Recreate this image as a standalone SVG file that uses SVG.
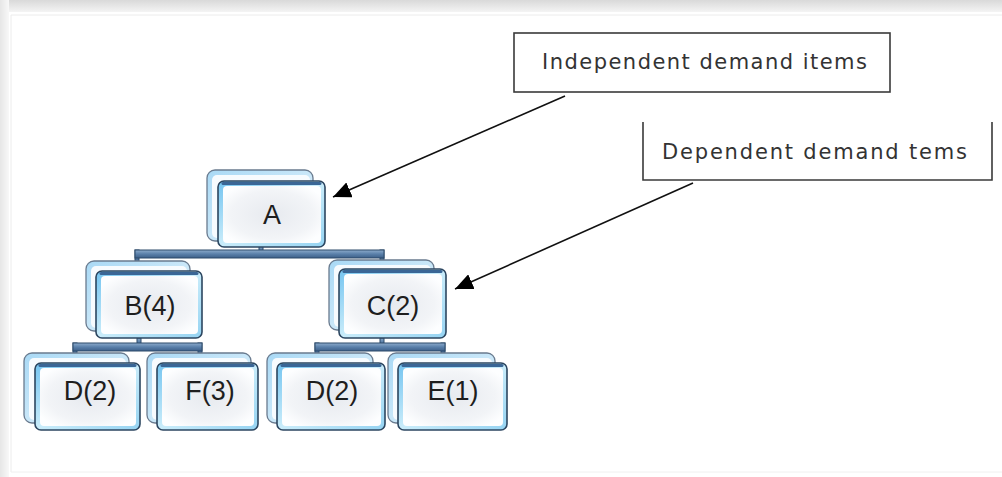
<svg xmlns="http://www.w3.org/2000/svg" width="1002" height="477" viewBox="0 0 1002 477">
  <defs>
    <linearGradient id="gTop" x1="0" y1="0" x2="0" y2="1">
      <stop offset="0" stop-color="#d9d9d9"/>
      <stop offset="1" stop-color="#f4f4f4"/>
    </linearGradient>
    <linearGradient id="gLeft" x1="0" y1="0" x2="1" y2="0">
      <stop offset="0" stop-color="#e6e6e6"/>
      <stop offset="1" stop-color="#f8f8f8"/>
    </linearGradient>
    <linearGradient id="gEdge" x1="0" y1="0" x2="1" y2="1">
      <stop offset="0" stop-color="#74c4f0"/>
      <stop offset="0.5" stop-color="#c9ecfa"/>
      <stop offset="1" stop-color="#95d3f2"/>
    </linearGradient>
    <radialGradient id="gInner" cx="0.5" cy="0.5" r="0.6">
      <stop offset="0" stop-color="#e7eaef"/>
      <stop offset="0.7" stop-color="#f2f4f7"/>
      <stop offset="1" stop-color="#fdfeff"/>
    </radialGradient>
    <linearGradient id="gBack" x1="0" y1="0" x2="1" y2="1">
      <stop offset="0" stop-color="#a9d9f5"/>
      <stop offset="1" stop-color="#e9f5fc"/>
    </linearGradient>
    <linearGradient id="gBar" x1="0" y1="0" x2="0" y2="1">
      <stop offset="0" stop-color="#8eaccc"/>
      <stop offset="0.5" stop-color="#5a80aa"/>
      <stop offset="1" stop-color="#3d5f88"/>
    </linearGradient>
    <marker id="arr" markerUnits="userSpaceOnUse" markerWidth="20" markerHeight="16" refX="18" refY="8" orient="auto">
      <path d="M0,0 L18,8 L0,16 Z" fill="#000"/>
    </marker>
    <style>
      .back { fill: url(#gBack); stroke: #6a7b8f; stroke-width: 1.3; }
      .backin { fill: #f7fbfe; stroke: none; }
      .front { fill: url(#gEdge); stroke: #2c4660; stroke-width: 1.6; }
      .frontin { fill: url(#gInner); stroke: none; }
      .topline { stroke: #3a6696; stroke-width: 3; stroke-linecap: round; fill: none; }
      .lbl { font-family: "Liberation Sans", Arial, sans-serif; font-size: 27px; fill: #1e1e1e; text-anchor: middle; }
      .bar { fill: url(#gBar); stroke: #2d4a6a; stroke-width: 1; }
      .callout { fill: #ffffff; stroke: #3a3a3a; stroke-width: 1.6; }
      .ctext { font-family: "DejaVu Sans", Verdana, sans-serif; font-size: 21px; fill: #333333; }
      .arrow { stroke: #111; stroke-width: 1.6; fill: none; marker-end: url(#arr); }
    </style>
  </defs>

  <!-- page frame -->
  <rect x="0" y="0" width="1002" height="477" fill="#ffffff"/>
  <rect x="0" y="0" width="1002" height="12" fill="url(#gTop)"/>
  <rect x="0" y="0" width="9" height="477" fill="url(#gLeft)"/>
  <line x1="11" y1="15" x2="1002" y2="15" stroke="#ececec" stroke-width="1"/>
  <line x1="11" y1="15" x2="11" y2="472" stroke="#ececec" stroke-width="1"/>
  <line x1="11" y1="472" x2="1002" y2="472" stroke="#f0f0f0" stroke-width="1"/>

  <!-- connectors -->
  <g id="connectors">
    <rect class="bar" x="259" y="246" width="4" height="8"/>
    <rect class="bar" x="135" y="250" width="4" height="13"/>
    <rect class="bar" x="380" y="250" width="4" height="12"/>
    <rect class="bar" x="135" y="250" width="249" height="8"/>

    <rect class="bar" x="137" y="338" width="4" height="8"/>
    <rect class="bar" x="73" y="343" width="4" height="12"/>
    <rect class="bar" x="198" y="343" width="4" height="12"/>
    <rect class="bar" x="73" y="343" width="129" height="8"/>

    <rect class="bar" x="380" y="338" width="4" height="8"/>
    <rect class="bar" x="315" y="343" width="4" height="12"/>
    <rect class="bar" x="441" y="343" width="4" height="12"/>
    <rect class="bar" x="315" y="343" width="130" height="8"/>

    <line class="arrow" x1="565" y1="96" x2="333" y2="197"/>
    <line class="arrow" x1="693" y1="183" x2="455" y2="289"/>
  </g>

  <!-- nodes -->
  <g id="node-A">
    <rect class="back" x="207" y="170" width="106" height="71" rx="8"/>
    <rect class="backin" x="212" y="175" width="98" height="63" rx="5"/>
    <rect class="front" x="218" y="181" width="107" height="66" rx="6"/>
    <rect class="frontin" x="223" y="186" width="98" height="57" rx="4"/>
    <line class="topline" x1="223" y1="183.5" x2="320" y2="183.5"/>
    <text class="lbl" x="272" y="224">A</text>
  </g>

  <g id="node-B">
    <rect class="back" x="86" y="261" width="104" height="70" rx="8"/>
    <rect class="backin" x="91" y="266" width="96" height="62" rx="5"/>
    <rect class="front" x="96" y="271" width="106" height="67" rx="6"/>
    <rect class="frontin" x="101" y="276" width="97" height="58" rx="4"/>
    <line class="topline" x1="101" y1="273.5" x2="197" y2="273.5"/>
    <text class="lbl" x="150" y="315">B(4)</text>
  </g>

  <g id="node-C">
    <rect class="back" x="329" y="260" width="105" height="70" rx="8"/>
    <rect class="backin" x="334" y="265" width="97" height="62" rx="5"/>
    <rect class="front" x="339" y="269" width="107" height="69" rx="6"/>
    <rect class="frontin" x="344" y="274" width="98" height="60" rx="4"/>
    <line class="topline" x1="344" y1="271.5" x2="441" y2="271.5"/>
    <text class="lbl" x="393" y="315">C(2)</text>
  </g>

  <g id="node-D1">
    <rect class="back" x="24" y="353" width="105" height="70" rx="8"/>
    <rect class="backin" x="29" y="358" width="97" height="62" rx="5"/>
    <rect class="front" x="35" y="363" width="105" height="67" rx="6"/>
    <rect class="frontin" x="40" y="368" width="96" height="58" rx="4"/>
    <line class="topline" x1="40" y1="365.5" x2="135" y2="365.5"/>
    <text class="lbl" x="90" y="400">D(2)</text>
  </g>

  <g id="node-F">
    <rect class="back" x="147" y="353" width="104" height="70" rx="8"/>
    <rect class="backin" x="152" y="358" width="96" height="62" rx="5"/>
    <rect class="front" x="157" y="363" width="101" height="67" rx="6"/>
    <rect class="frontin" x="162" y="368" width="92" height="58" rx="4"/>
    <line class="topline" x1="162" y1="365.5" x2="253" y2="365.5"/>
    <text class="lbl" x="210" y="400">F(3)</text>
  </g>

  <g id="node-D2">
    <rect class="back" x="267" y="353" width="106" height="70" rx="8"/>
    <rect class="backin" x="272" y="358" width="98" height="62" rx="5"/>
    <rect class="front" x="277" y="363" width="108" height="67" rx="6"/>
    <rect class="frontin" x="282" y="368" width="99" height="58" rx="4"/>
    <line class="topline" x1="282" y1="365.5" x2="380" y2="365.5"/>
    <text class="lbl" x="332" y="400">D(2)</text>
  </g>

  <g id="node-E">
    <rect class="back" x="388" y="353" width="107" height="70" rx="8"/>
    <rect class="backin" x="393" y="358" width="99" height="62" rx="5"/>
    <rect class="front" x="398" y="363" width="109" height="67" rx="6"/>
    <rect class="frontin" x="403" y="368" width="100" height="58" rx="4"/>
    <line class="topline" x1="403" y1="365.5" x2="502" y2="365.5"/>
    <text class="lbl" x="453" y="400">E(1)</text>
  </g>

  <!-- callouts -->
  <g id="callout-independent">
    <rect class="callout" x="514" y="33" width="376" height="59"/>
    <text class="ctext" x="542" y="69" textLength="325" lengthAdjust="spacing">Independent demand items</text>
  </g>
  <g id="callout-dependent">
    <path d="M643,122 L643,180 L992,180 L992,122" fill="#ffffff" stroke="#3a3a3a" stroke-width="1.6"/>
    <text class="ctext" x="662" y="159" textLength="305" lengthAdjust="spacing">Dependent demand tems</text>
  </g>
</svg>
